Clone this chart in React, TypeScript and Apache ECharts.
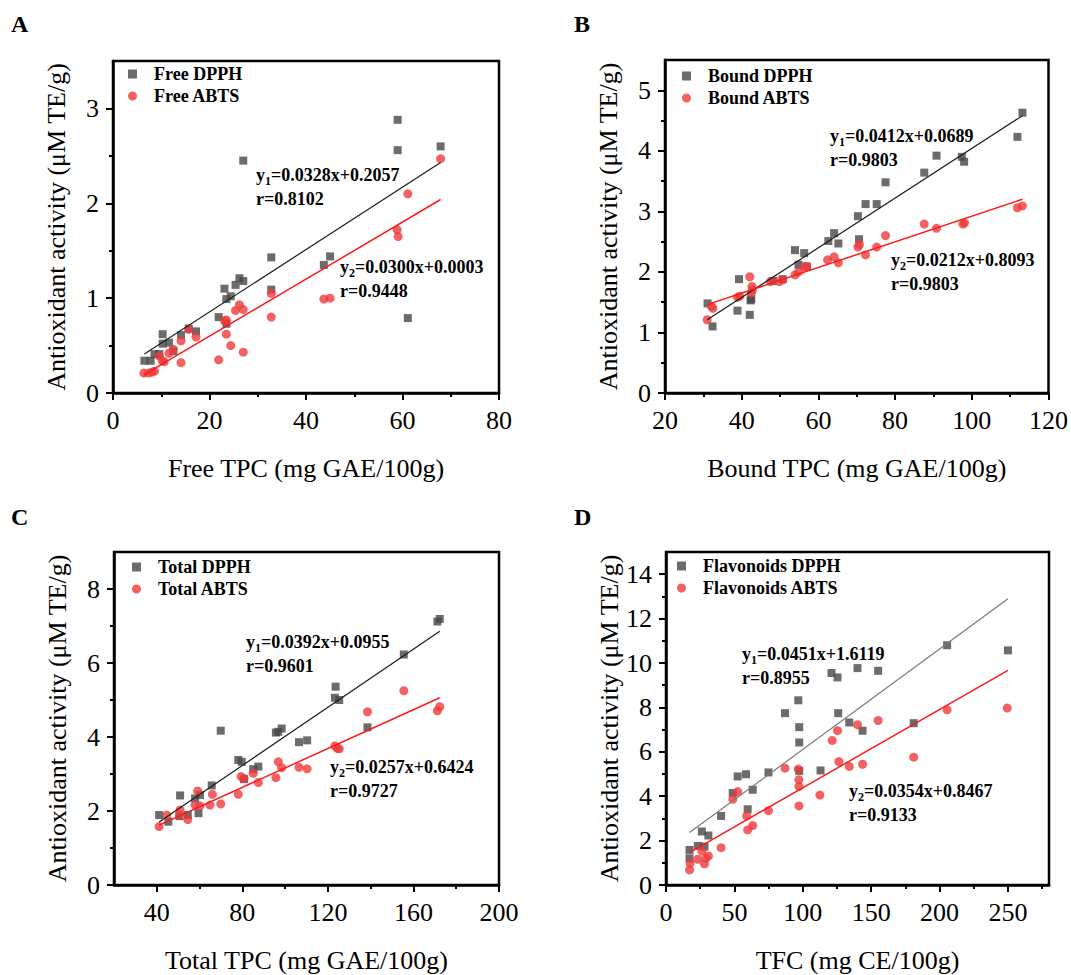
import React, { useEffect, useRef } from "react";
import * as echarts from "echarts";

const FONT = "Liberation Serif";
const SQ = "#474747";
const RED = "#ef3b3b";

// Panel A: Free TPC
const freeDPPH = [[6.5,0.34],[7.8,0.34],[8.6,0.41],[9.6,0.41],[10.3,0.62],[10.3,0.52],[11.6,0.53],[12.5,0.44],[14.1,0.61],[15.7,0.68],[17.2,0.65],[21.9,0.80],[23.1,1.10],[23.5,0.99],[24.4,1.02],[23.5,0.73],[25.4,1.14],[26.2,1.21],[27.0,1.18],[27.0,2.45],[32.8,1.43],[32.8,1.09],[43.7,1.35],[45.0,1.44],[59.0,2.88],[59.0,2.56],[61.1,0.79],[67.9,2.60]];
const freeABTS = [[6.4,0.21],[7.4,0.21],[8.1,0.22],[8.6,0.23],[9.6,0.39],[10.2,0.34],[10.6,0.33],[11.6,0.42],[12.5,0.46],[14.1,0.55],[14.1,0.32],[15.7,0.67],[17.2,0.59],[21.9,0.35],[23.1,0.76],[23.5,0.77],[23.5,0.62],[24.4,0.50],[25.4,0.87],[26.2,0.93],[27.0,0.88],[27.0,0.43],[32.8,1.05],[32.8,0.80],[43.7,0.99],[45.0,1.00],[58.9,1.72],[59.1,1.65],[61.1,2.10],[67.9,2.47]];
const freeFitDPPH = [[6.5,0.41],[67.9,2.43]];
const freeFitABTS = [[6.4,0.19],[67.9,2.04]];

// Panel B: Bound TPC
const boundDPPH = [[31.1,1.48],[32.4,1.10],[38.9,1.36],[39.3,1.88],[42.1,1.29],[42.3,1.53],[42.5,1.55],[48.1,1.85],[50.7,1.88],[53.9,2.36],[54.8,2.12],[56.3,2.31],[57.0,2.09],[62.6,2.51],[64.1,2.64],[65.2,2.47],[70.3,2.92],[70.6,2.54],[72.3,3.12],[75.2,3.12],[77.5,3.48],[87.6,3.64],[90.8,3.92],[97.4,3.90],[98.0,3.82],[111.9,4.23],[113.2,4.63]];
const boundABTS = [[31.0,1.21],[32.1,1.43],[32.5,1.40],[38.9,1.58],[39.5,1.60],[42.1,1.92],[42.7,1.76],[42.8,1.70],[42.5,1.65],[47.5,1.84],[49.8,1.84],[50.7,1.87],[53.9,1.95],[54.8,2.00],[56.3,2.08],[56.9,2.09],[62.4,2.20],[64.1,2.25],[65.2,2.15],[70.3,2.41],[70.7,2.45],[72.3,2.28],[75.2,2.41],[77.5,2.60],[87.6,2.79],[90.8,2.72],[97.7,2.79],[98.1,2.81],[111.9,3.06],[113.2,3.09]];
const boundFitDPPH = [[31.0,1.21],[113.2,4.58]];
const boundFitABTS = [[31.0,1.46],[113.2,3.20]];

// Panel C: Total TPC
const totalDPPH = [[41.1,1.89],[45.4,1.71],[50.9,2.42],[50.6,1.86],[54.5,1.89],[57.9,2.34],[59.5,1.94],[60.2,2.43],[65.7,2.69],[69.9,4.17],[78.1,3.38],[79.7,3.33],[80.8,2.86],[85.1,3.13],[87.5,3.20],[95.7,4.12],[96.8,4.14],[98.4,4.23],[106.5,3.86],[110.3,3.91],[123.6,5.36],[123.3,5.06],[125.3,5.00],[138.5,4.26],[155.5,6.23],[171.2,7.12],[172.3,7.19]];
const totalABTS = [[41.1,1.58],[44.7,1.89],[50.9,2.03],[50.6,1.89],[54.5,1.77],[57.9,2.16],[59.1,2.54],[60.2,2.14],[64.9,2.16],[66.0,2.45],[69.9,2.19],[78.1,2.45],[79.4,2.93],[80.8,2.88],[85.1,3.02],[87.5,2.77],[95.7,2.90],[96.8,3.33],[98.4,3.17],[106.5,3.18],[110.3,3.14],[123.3,3.76],[124.4,3.69],[125.3,3.68],[138.5,4.68],[155.5,5.25],[171.2,4.71],[172.3,4.82]];
const totalFitDPPH = [[41.1,1.70],[172.3,6.86]];
const totalFitABTS = [[41.1,1.62],[172.3,5.06]];

// Panel D: TFC
const flavDPPH = [[17.2,1.58],[17.2,1.20],[23.3,1.76],[26.2,2.41],[28.1,1.73],[31.0,2.23],[40.3,3.11],[48.8,4.14],[52.4,4.89],[58.5,4.99],[59.7,3.41],[63.4,4.29],[74.9,5.07],[87.0,7.74],[96.7,8.32],[97.4,7.11],[97.4,6.42],[97.4,5.14],[113.0,5.16],[121.0,9.55],[125.4,9.35],[125.9,7.74],[134.0,7.32],[140.0,9.77],[143.7,6.95],[155.1,9.65],[181.1,7.29],[205.5,10.80],[250.0,10.57]];
const flavABTS = [[17.2,0.68],[17.6,0.98],[23.3,1.16],[26.2,1.53],[28.1,0.95],[29.3,1.20],[31.0,1.31],[40.3,1.68],[48.8,3.86],[52.4,4.21],[59.0,3.11],[59.7,2.48],[63.4,2.68],[74.9,3.35],[87.0,5.26],[96.7,5.22],[97.2,4.74],[97.2,4.44],[97.2,3.56],[112.5,4.05],[121.5,6.51],[125.4,6.95],[126.4,5.56],[134.0,5.34],[140.0,7.22],[143.7,5.44],[155.1,7.41],[181.1,5.76],[205.5,7.89],[249.5,7.97]];
const flavFitDPPH = [[17.2,2.36],[250,12.89]];
const flavFitABTS = [[17.2,1.46],[250,9.67]];

const xTicksA = [0, 20, 40, 60, 80];
const xTicksB = [20, 40, 60, 80, 100, 120];
const xTicksC = [40, 80, 120, 160, 200];
const xMinorC = [60, 100, 140, 180];
const xTicksD = [0, 50, 100, 150, 200, 250];
const yTicksA = [0, 1, 2, 3];
const yTicksB = [0, 1, 2, 3, 4, 5];
const yTicksC = [0, 2, 4, 6, 8];
const yTicksD = [0, 2, 4, 6, 8, 10, 12, 14];

const panelLetters = ["A", "B", "C", "D"];
const legendNames = [
  ["Free DPPH", "Free ABTS"],
  ["Bound DPPH", "Bound ABTS"],
  ["Total DPPH", "Total ABTS"],
  ["Flavonoids DPPH", "Flavonoids ABTS"],
];
const xNames = ["Free TPC (mg GAE/100g)", "Bound TPC (mg GAE/100g)", "Total TPC (mg GAE/100g)", "TFC (mg CE/100g)"];
const yName = "Antioxidant activity (μM TE/g)";
const equations = [
  ["0.0328x+0.2057", "0.8102", "0.0300x+0.0003", "0.9448"],
  ["0.0412x+0.0689", "0.9803", "0.0212x+0.8093", "0.9803"],
  ["0.0392x+0.0955", "0.9601", "0.0257x+0.6424", "0.9727"],
  ["0.0451x+1.6119", "0.8955", "0.0354x+0.8467", "0.9133"],
];

export default function App() {
  const ref = useRef<HTMLDivElement>(null);
  useEffect(() => {
    if (!ref.current) return;
    const chart = echarts.init(ref.current, null, { renderer: "svg" });

    const grids = [
      { left: 113, top: 61, width: 386, height: 332 },
      { left: 665, top: 60, width: 384, height: 333 },
      { left: 114, top: 552, width: 385, height: 333 },
      { left: 666, top: 552, width: 383, height: 333 },
    ].map((g) => ({ ...g, show: true, borderColor: "#000", borderWidth: 2.5, backgroundColor: "transparent" }));

    const lineStyle = { color: "#000", width: 2.5 };
    const tick = (vals: number[], len = 7) => ({ show: true, inside: false, length: len, customValues: vals, lineStyle: { color: "#000", width: 2 } });
    const minor = { show: true, splitNumber: 2, length: 4, lineStyle: { color: "#000", width: 2 } };
    const label = (vals: number[]) => ({ customValues: vals, fontFamily: FONT, fontSize: 26, color: "#000", margin: 14 });
    const nameStyle = { fontFamily: FONT, fontSize: 26, color: "#000" };

    const xAxisDef = (gi: number, min: number, max: number, interval: number, ticks: number[], useMinor = true) => ({
      type: "value", gridIndex: gi, min, max, interval, position: "bottom",
      name: xNames[gi], nameLocation: "middle", nameGap: 62, nameTextStyle: nameStyle,
      axisLine: { show: true, onZero: false, lineStyle },
      axisTick: tick(ticks), minorTick: useMinor ? minor : { show: false },
      axisLabel: label(ticks), splitLine: { show: false },
    });
    const yAxisDef = (gi: number, min: number, max: number, interval: number, ticks: number[]) => ({
      type: "value", gridIndex: gi, min, max, interval,
      name: yName, nameLocation: "middle", nameGap: 44, nameTextStyle: nameStyle,
      axisLine: { show: true, onZero: false, lineStyle },
      axisTick: tick(ticks), minorTick: minor,
      axisLabel: label(ticks), splitLine: { show: false },
    });

    const xAxis = [
      xAxisDef(0, 0, 80, 20, xTicksA),
      xAxisDef(1, 20, 120, 20, xTicksB),
      xAxisDef(2, 20, 200, 20, xTicksC, false),
      xAxisDef(3, 0, 280, 50, xTicksD),
      {
        type: "value", gridIndex: 2, min: 20, max: 200, interval: 20, position: "bottom",
        axisLine: { show: false }, axisLabel: { show: false }, splitLine: { show: false },
        axisTick: tick(xMinorC, 4),
      },
    ];
    const yAxis = [
      yAxisDef(0, 0, 3.5, 1, yTicksA),
      yAxisDef(1, 0, 5.5, 1, yTicksB),
      yAxisDef(2, 0, 9, 2, yTicksC),
      yAxisDef(3, 0, 15, 2, yTicksD),
    ];

    const sets = [
      [freeDPPH, freeABTS, freeFitDPPH, freeFitABTS],
      [boundDPPH, boundABTS, boundFitDPPH, boundFitABTS],
      [totalDPPH, totalABTS, totalFitDPPH, totalFitABTS],
      [flavDPPH, flavABTS, flavFitDPPH, flavFitABTS],
    ];
    const series: any[] = [];
    sets.forEach((s, i) => {
      series.push({ type: "scatter", name: legendNames[i][0], xAxisIndex: i, yAxisIndex: i, data: s[0], symbol: "rect", symbolSize: 8, itemStyle: { color: SQ }, z: 2 });
      series.push({ type: "scatter", name: legendNames[i][1], xAxisIndex: i, yAxisIndex: i, data: s[1], symbol: "circle", symbolSize: 9, itemStyle: { color: RED }, z: 3 });
      series.push({ type: "line", name: "fit1-" + i, xAxisIndex: i, yAxisIndex: i, data: s[2], symbol: "none", lineStyle: { color: i === 3 ? "#7a7a7a" : "#1a1a1a", width: 1.2 }, z: 4 });
      series.push({ type: "line", name: "fit2-" + i, xAxisIndex: i, yAxisIndex: i, data: s[3], symbol: "none", lineStyle: { color: "#ff1a1a", width: 1.5 }, z: 4 });
    });

    const legendPos = [
      { left: 128, top: 65 },
      { left: 682, top: 67 },
      { left: 132, top: 558 },
      { left: 677, top: 557 },
    ];
    const legend = legendPos.map((p, i) => ({
      ...p, orient: "vertical", padding: 0, itemGap: 4, itemWidth: 9, itemHeight: 9,
      textStyle: { fontFamily: FONT, fontWeight: "bold", fontSize: 18, color: "#000", padding: [0, 0, 0, 12] },
      data: [{ name: legendNames[i][0], icon: "rect" }, { name: legendNames[i][1], icon: "circle" }],
    }));

    const rich = {
      n: { fontFamily: FONT, fontWeight: "bold", fontSize: 18, color: "#000", lineHeight: 24 },
      s: { fontFamily: FONT, fontWeight: "bold", fontSize: 12, color: "#000", lineHeight: 12, verticalAlign: "bottom" },
    };
    const eqPos = [
      [[256, 163], [340, 255]],
      [[830, 124], [891, 248]],
      [[246, 630], [330, 755]],
      [[742, 642], [849, 779]],
    ];
    const graphic: any[] = [];
    eqPos.forEach((pp, i) => {
      const e = equations[i];
      graphic.push({ type: "text", x: pp[0][0], y: pp[0][1], style: { text: `{n|y}{s|1}{n|=${e[0]}}\n{n|r=${e[1]}}`, rich, align: "left", verticalAlign: "top" } });
      graphic.push({ type: "text", x: pp[1][0], y: pp[1][1], style: { text: `{n|y}{s|2}{n|=${e[2]}}\n{n|r=${e[3]}}`, rich, align: "left", verticalAlign: "top" } });
    });
    const letterPos = [[11, 24], [574, 24], [11, 517], [574, 517]];
    letterPos.forEach((p, i) => {
      graphic.push({ type: "text", x: p[0], y: p[1], style: { text: panelLetters[i], font: `bold 24px ${FONT}`, fill: "#000", align: "left", verticalAlign: "middle" } });
    });

    chart.setOption({
      animation: false,
      backgroundColor: "#fff",
      grid: grids,
      xAxis,
      yAxis,
      legend,
      series,
      graphic,
    });
    return () => chart.dispose();
  }, []);
  return <div ref={ref} style={{ width: 1071, height: 975, position: "absolute", left: 0, top: 0 }} />;
}
